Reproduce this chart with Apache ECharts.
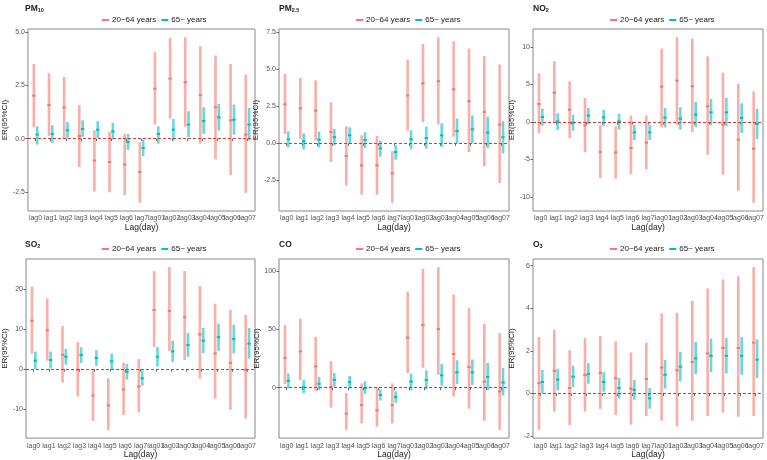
<!DOCTYPE html>
<html>
<head>
<meta charset="utf-8">
<script src="https://cdn.jsdelivr.net/npm/echarts@6/dist/echarts.min.js"></script>
<style>
    html, body { margin: 0; padding: 0; background: #fff; }
    #main { width: 767px; height: 460px; }
</style>
</head>
<body>
<div id="main"></div>
<script>
// 滞后天数（横轴分类）
var lags = ["lag0", "lag1", "lag2", "lag3", "lag4", "lag5", "lag6", "lag7",
    "lag01", "lag02", "lag03", "lag04", "lag05", "lag06", "lag07"];

var groupNames = ["20~64 years", "65~ years"];

// 每一项为 [ER, 下限, 上限]
var pm10Adult = [[2.02, 0.53, 3.51], [1.58, 0.13, 3.07], [1.46, 0.00, 2.90], [0.13, -1.33, 1.57], [-1.03, -2.48, 0.39],
    [-1.10, -2.52, 0.31], [-1.22, -2.66, 0.22], [-1.57, -3.01, -0.16], [2.35, 0.66, 4.06], [2.82, 0.94, 4.73],
    [2.65, 0.56, 4.76], [2.04, -0.24, 4.34], [1.47, -0.97, 3.90], [0.86, -1.72, 3.51], [0.19, -2.55, 3.01]];
var pm10Elder = [[0.19, -0.28, 0.58], [0.22, -0.20, 0.63], [0.39, 0.00, 0.78], [0.45, 0.08, 0.86], [0.42, 0.03, 0.82],
    [0.34, -0.05, 0.74], [-0.16, -0.53, 0.22], [-0.44, -0.83, -0.05], [0.22, -0.24, 0.58], [0.42, -0.09, 0.92],
    [0.66, 0.06, 1.29], [0.83, 0.22, 1.47], [1.00, 0.38, 1.63], [0.89, 0.19, 1.60], [0.66, -0.09, 1.44]];

var pm25Adult = [[2.64, 0.63, 4.68], [2.36, 0.29, 4.41], [2.21, 0.18, 4.26], [0.77, -1.26, 2.77], [-0.86, -2.86, 1.15],
    [-1.49, -3.47, 0.54], [-1.49, -3.47, 0.50], [-2.03, -4.01, -0.52], [3.22, 0.86, 5.65], [4.05, 1.44, 6.71],
    [4.19, 1.26, 7.16], [3.65, 0.45, 6.89], [2.84, -0.59, 6.40], [2.12, -1.55, 5.90], [1.26, -2.68, 5.32]];
var pm25Elder = [[0.27, -0.27, 0.81], [0.14, -0.43, 0.68], [0.25, -0.29, 0.79], [0.41, -0.14, 0.97], [0.54, -0.02, 1.08],
    [0.23, -0.32, 0.74], [-0.34, -0.90, 0.18], [-0.59, -1.10, -0.14], [0.27, -0.38, 0.88], [0.36, -0.36, 1.13],
    [0.54, -0.23, 1.35], [0.83, 0.00, 1.67], [0.95, 0.00, 1.89], [0.72, -0.32, 1.80], [0.41, -0.68, 1.49]];

var no2Adult = [[2.40, -1.51, 6.49], [3.90, -0.10, 8.09], [1.64, -2.13, 5.42], [-0.44, -4.04, 3.20], [-4.00, -7.47, -0.44],
    [-4.04, -7.56, -0.58], [-3.47, -6.93, 0.89], [-2.76, -6.31, 0.89], [4.71, -0.71, 9.78], [5.51, -0.36, 11.29],
    [4.76, -1.33, 11.11], [2.09, -4.36, 8.76], [-0.36, -7.02, 6.58], [-2.36, -9.16, 5.07], [-3.56, -10.76, 4.09]];
var no2Elder = [[0.67, -0.49, 1.78], [0.09, -1.07, 1.16], [-0.09, -1.16, 0.98], [0.84, -0.27, 1.87], [0.62, -0.49, 1.64],
    [0.09, -1.02, 1.11], [-1.38, -2.40, -0.36], [-1.38, -2.40, -0.36], [0.58, -0.71, 1.87], [0.44, -1.02, 1.96],
    [0.98, -0.67, 2.67], [1.29, -0.44, 3.07], [1.29, -0.53, 3.20], [0.53, -1.47, 2.49], [-0.27, -2.31, 1.78]];

var so2Adult = [[12.08, 3.84, 20.57], [9.71, 2.12, 17.63], [3.59, -3.35, 10.78], [-0.16, -6.86, 6.69], [-6.61, -12.90, 0.00],
    [-9.06, -15.18, -2.29], [-5.06, -11.43, 1.63], [-4.33, -10.78, 2.53], [14.78, 5.55, 24.49], [14.53, 4.57, 25.47],
    [12.98, 2.29, 24.49], [8.65, -2.37, 20.73], [3.92, -7.35, 16.33], [1.55, -10.12, 14.78], [-0.16, -12.33, 13.55]];
var so2Elder = [[2.12, 0.00, 4.41], [2.29, 0.16, 4.41], [3.10, 1.14, 5.06], [3.51, 1.55, 5.47], [2.78, 0.82, 4.73],
    [1.96, 0.00, 3.92], [-0.65, -2.61, 1.31], [-2.29, -4.16, -0.33], [3.10, 0.65, 5.55], [4.41, 1.80, 7.10],
    [6.04, 3.10, 9.06], [7.10, 4.00, 10.29], [8.00, 4.57, 11.35], [7.51, 3.92, 11.10], [6.37, 2.61, 10.29]];

var coAdult = [[25.6, 3.1, 53.7], [31.2, 6.5, 59.3], [18.3, -3.1, 43.5], [0.8, -17.1, 22.8], [-22.2, -36.2, -4.5],
    [-14.9, -30.6, 3.7], [-19.4, -33.4, 0.3], [-14.9, -30.6, 3.7], [43.0, 12.6, 82.3], [53.7, 17.1, 102.0],
    [50.3, 11.0, 103.4], [28.9, -7.6, 79.8], [17.7, -18.0, 68.3], [5.3, -28.4, 54.8], [-3.1, -36.2, 46.9]];
var coElder = [[5.9, -0.3, 12.1], [0.3, -4.8, 6.5], [3.4, -2.0, 9.3], [6.7, 1.1, 12.6], [4.8, -0.8, 10.1],
    [-0.3, -5.3, 5.6], [-6.2, -11.0, -1.4], [-7.9, -12.9, -3.1], [5.3, -2.0, 12.1], [6.7, -1.4, 14.9],
    [10.7, 1.7, 20.5], [13.2, 3.1, 23.6], [13.2, 2.5, 24.2], [9.3, -2.0, 21.3], [4.5, -6.7, 17.1]];

var o3Adult = [[0.48, -1.71, 2.65], [1.06, -0.85, 3.00], [0.26, -1.49, 2.03], [0.86, -0.85, 2.60], [0.97, -0.74, 2.70],
    [0.72, -1.00, 2.45], [0.23, -1.46, 1.93], [0.68, -1.05, 2.39], [1.22, -1.28, 3.76], [1.09, -1.54, 3.79],
    [1.48, -1.28, 4.35], [1.88, -1.05, 4.93], [2.14, -0.89, 5.35], [2.14, -1.09, 5.50], [2.39, -1.05, 5.93]];
var o3Elder = [[0.54, 0.00, 1.11], [0.65, 0.14, 1.16], [0.79, 0.29, 1.31], [0.92, 0.46, 1.42], [0.54, 0.08, 1.00],
    [0.26, -0.23, 0.72], [0.17, -0.29, 0.63], [-0.23, -0.71, 0.26], [0.88, 0.23, 1.57], [1.26, 0.57, 1.96],
    [1.65, 0.91, 2.42], [1.77, 1.00, 2.57], [1.77, 0.94, 2.60], [1.77, 0.88, 2.65], [1.59, 0.72, 2.54]];

// 纵轴刻度
var pm10Ticks = [-2.5, 0, 2.5, 5];
var pm25Ticks = [-2.5, 0, 2.5, 5, 7.5];
var no2Ticks = [-10, -5, 0, 5, 10];
var so2Ticks = [-10, 0, 10, 20];
var coTicks = [0, 50, 100];
var o3Ticks = [-2, 0, 2, 4, 6];

// 面板：标题（主体 + 下标）、数据、刻度、小数位
var panels = [
    {main: "PM", sub: "10", adult: pm10Adult, elder: pm10Elder, ticks: pm10Ticks, digits: 1},
    {main: "PM", sub: "2.5", adult: pm25Adult, elder: pm25Elder, ticks: pm25Ticks, digits: 1},
    {main: "NO", sub: "2", adult: no2Adult, elder: no2Elder, ticks: no2Ticks, digits: 0},
    {main: "SO", sub: "2", adult: so2Adult, elder: so2Elder, ticks: so2Ticks, digits: 0},
    {main: "CO", sub: "", adult: coAdult, elder: coElder, ticks: coTicks, digits: 0},
    {main: "O", sub: "3", adult: o3Adult, elder: o3Elder, ticks: o3Ticks, digits: 0}
];

var RED = "#F8766D", TEAL = "#00BFC4";
var FONT = "Liberation Sans";
var colLeft = [25, 279, 533];
var rowTop = [29, 259];
var boxW = 230, boxH = 182;

// 误差棒：半透明竖条 + 中间的点，offset 为占分类宽度的比例（左右错开）
function errorBar(offset, color) {
    return function (params, api) {
        var x = api.value(0);
        var band = api.size([1, 0])[0];
        var pMid = api.coord([x, api.value(1)]);
        var pLo = api.coord([x, api.value(2)]);
        var pHi = api.coord([x, api.value(3)]);
        var cx = pMid[0] + offset * band;
        return {
            type: "group",
            children: [
                {type: "rect", shape: {x: cx - 1.3, y: pHi[1], width: 2.6, height: pLo[1] - pHi[1]},
                    style: {fill: color, opacity: 0.6}},
                {type: "rect", shape: {x: cx - 1.7, y: pMid[1] - 1, width: 3.4, height: 2},
                    style: {fill: color}}
            ]
        };
    };
}

function toSeriesData(rows) {
    var out = [];
    for (var i = 0; i < rows.length; i++) {
        out.push([i, rows[i][0], rows[i][1], rows[i][2]]);
    }
    return out;
}

// 按 ggplot 的方式两端各扩 5%
function yRange(p) {
    var lo = Infinity, hi = -Infinity;
    var all = p.adult.concat(p.elder);
    for (var i = 0; i < all.length; i++) {
        lo = Math.min(lo, all[i][1]);
        hi = Math.max(hi, all[i][2]);
    }
    var pad = (hi - lo) * 0.05;
    return [lo - pad, hi + pad];
}

function numLabel(d) {
    return function (v) { return Number(v).toFixed(d); };
}

// 注意：不要在全局用 var top（window.top 只读，会变成 window 对象导致栈溢出）
function buildOption() {
    var option = {
        backgroundColor: "#fff",
        animation: false,
        title: [], legend: [], grid: [], xAxis: [], yAxis: [], series: []
    };

    for (var i = 0; i < panels.length; i++) {
        var p = panels[i];
        var row = Math.floor(i / 3);
        var gLeft = colLeft[i % 3], gTop = rowTop[row];
        var range = yRange(p);

        option.title.push({
            text: "{m|" + p.main + "}" + (p.sub ? "{s|" + p.sub + "}" : ""),
            left: gLeft,
            top: row === 0 ? 2 : 238,
            padding: 0,
            textStyle: {
                rich: {
                    m: {fontFamily: FONT, fontSize: 8.5, color: "#222", lineHeight: 11, verticalAlign: "bottom"},
                    s: {fontFamily: FONT, fontSize: 5.5, color: "#222", lineHeight: 11, verticalAlign: "bottom", padding: [3, 0, 0, 0]}
                }
            }
        });

        option.legend.push({
            data: groupNames.slice(),
            left: gLeft + 77,
            top: row === 0 ? 16 : 245,
            icon: "rect",
            itemWidth: 7,
            itemHeight: 2,
            itemGap: 5,
            padding: 0,
            textStyle: {fontFamily: FONT, fontSize: 8, color: "#222", padding: [0, 0, 0, -2]}
        });

        option.grid.push({
            left: gLeft, top: gTop, width: boxW, height: boxH,
            show: true, borderColor: "#888", borderWidth: 1
        });

        // 分类轴 + interval 0，保证 15 个标签全部显示
        option.xAxis.push({
            type: "category", gridIndex: i, data: lags.slice(), boundaryGap: true,
            name: "Lag(day)", nameLocation: "middle", nameGap: 10,
            nameTextStyle: {fontFamily: FONT, fontSize: 8.5, color: "#222"},
            axisLine: {show: false},
            axisTick: {show: true, length: 2.5, interval: 0, alignWithLabel: true, lineStyle: {color: "#666"}},
            axisLabel: {interval: 0, margin: 4, fontFamily: FONT, fontSize: 7, color: "#555"},
            splitLine: {show: false}
        });

        option.yAxis.push({
            type: "value", gridIndex: i, min: range[0], max: range[1],
            name: "ER(95%CI)", nameLocation: "middle", nameGap: 17,
            nameTextStyle: {fontFamily: FONT, fontSize: 8, color: "#222"},
            axisLine: {show: false},
            axisTick: {show: true, length: 2.5, lineStyle: {color: "#666"}, customValues: p.ticks.slice()},
            axisLabel: {customValues: p.ticks.slice(), margin: 3, fontFamily: FONT, fontSize: 7, color: "#555",
                showMinLabel: true, showMaxLabel: true, formatter: numLabel(p.digits)},
            splitLine: {show: false}
        });

        option.series.push({
            type: "custom", name: groupNames[0], xAxisIndex: i, yAxisIndex: i,
            itemStyle: {color: RED},
            renderItem: errorBar(-0.11, RED),
            encode: {x: 0, y: 1},
            data: toSeriesData(p.adult),
            markLine: {
                silent: true, symbol: "none", label: {show: false},
                lineStyle: {type: [3, 2], color: "#d43a2f", width: 1},
                data: [{yAxis: 0}]
            }
        });
        option.series.push({
            type: "custom", name: groupNames[1], xAxisIndex: i, yAxisIndex: i,
            itemStyle: {color: TEAL},
            renderItem: errorBar(0.11, TEAL),
            encode: {x: 0, y: 1},
            data: toSeriesData(p.elder)
        });
    }
    return option;
}

var chart = echarts.init(document.getElementById("main"));
chart.setOption(buildOption());
</script>
</body>
</html>
